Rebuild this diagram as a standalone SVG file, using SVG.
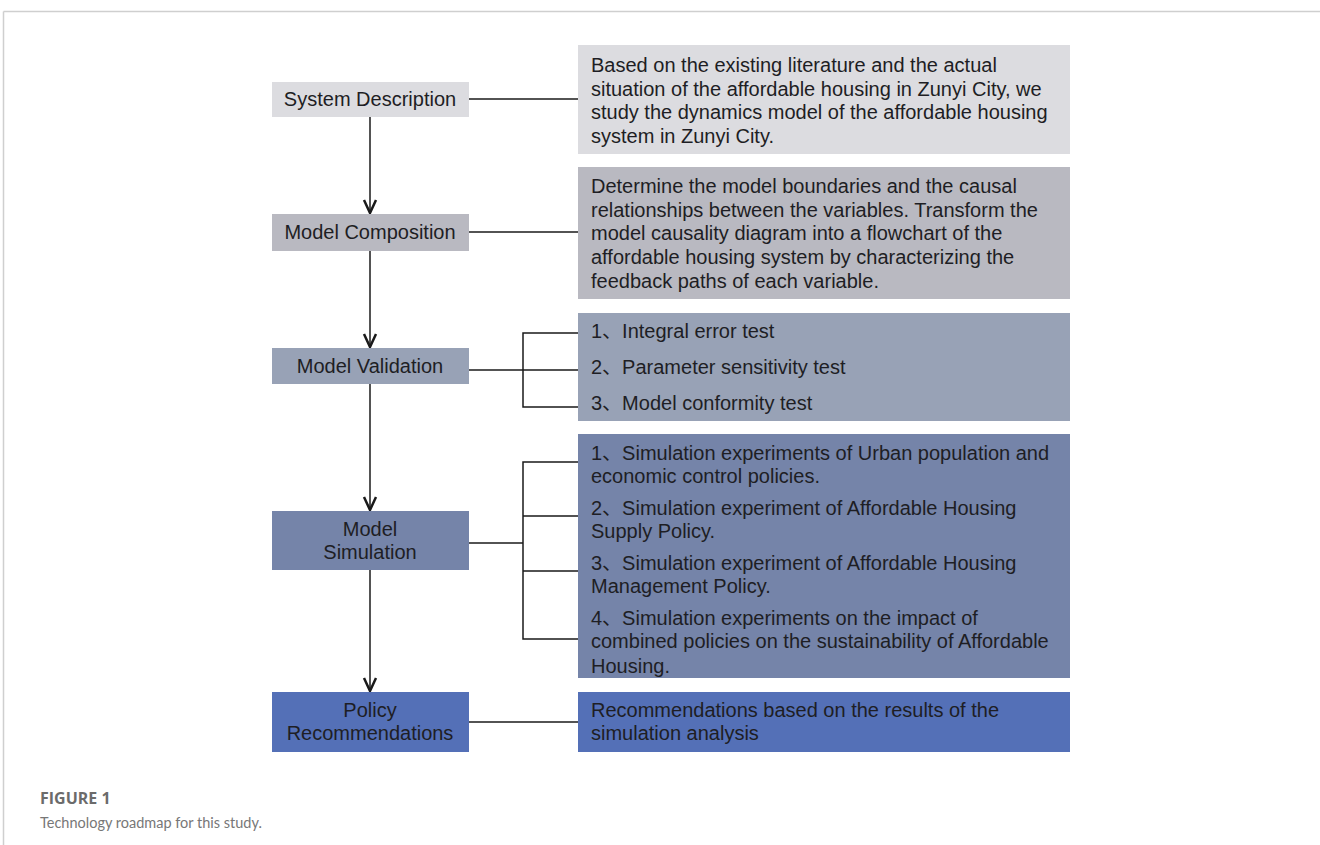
<svg xmlns="http://www.w3.org/2000/svg" width="1320" height="845" viewBox="0 0 1320 845">
<style>
.lbl{font-family:"Liberation Sans",Arial,"Noto Sans CJK SC",sans-serif;font-size:20px;fill:#1e1e24}
.ctr{text-anchor:middle}
.ln{stroke:#1a1a1a;stroke-width:1.5;fill:none}
.cap1{font-family:"Open Sans","Noto Sans",sans-serif;font-size:16px;font-weight:bold;fill:#6b6b6b}
.cap2{font-family:Lato,"Open Sans",sans-serif;font-size:14.5px;fill:#777}
</style>
<defs>
<marker id="arr" markerUnits="userSpaceOnUse" markerWidth="20" markerHeight="20" viewBox="-16 -10 20 20" refX="0" refY="0" orient="auto">
<path d="M-14,-6 L-1,0 L-14,6" fill="none" stroke="#1a1a1a" stroke-width="2.5"/>
</marker>
</defs>
<rect width="1320" height="845" fill="#fff"/>
<g id="frame">
<line x1="3.5" y1="11.5" x2="1320" y2="11.5" stroke="#cfcfcf" stroke-width="1.5"/>
<line x1="3.5" y1="11.5" x2="3.5" y2="845" stroke="#cfcfcf" stroke-width="1.5"/>
</g>
<g id="connectors">
<line class="ln" x1="370" y1="117" x2="370" y2="214" marker-end="url(#arr)"/>
<line class="ln" x1="370" y1="251" x2="370" y2="348" marker-end="url(#arr)"/>
<line class="ln" x1="370" y1="384" x2="370" y2="511" marker-end="url(#arr)"/>
<line class="ln" x1="370" y1="570" x2="370" y2="692" marker-end="url(#arr)"/>
<line class="ln" x1="469" y1="99" x2="578" y2="99"/>
<line class="ln" x1="469" y1="232" x2="578" y2="232"/>
<line class="ln" x1="469" y1="370" x2="523" y2="370"/>
<path class="ln" d="M578,333 H523 V407 H578 M523,370 H578"/>
<line class="ln" x1="469" y1="543" x2="523" y2="543"/>
<path class="ln" d="M578,462 H523 V639 H578 M523,516 H578 M523,571 H578"/>
<line class="ln" x1="469" y1="722" x2="578" y2="722"/>
</g>
<g id="n-system-description">
<rect x="272" y="82" width="197" height="35" fill="#dcdce0"/>
<text class="lbl ctr" x="370" y="106">System Description</text>
</g>
<g id="n-model-composition">
<rect x="272" y="214" width="197" height="37" fill="#b9b9c1"/>
<text class="lbl ctr" x="370" y="239">Model Composition</text>
</g>
<g id="n-model-validation">
<rect x="272" y="348" width="197" height="36" fill="#98a2b6"/>
<text class="lbl ctr" x="370" y="373">Model Validation</text>
</g>
<g id="n-model-simulation">
<rect x="272" y="511" width="197" height="59" fill="#7584a9"/>
<text class="lbl ctr" x="370" y="536">Model</text>
<text class="lbl ctr" x="370" y="559">Simulation</text>
</g>
<g id="n-policy-recommendations">
<rect x="272" y="692" width="197" height="60" fill="#5470b7"/>
<text class="lbl ctr" x="370" y="717">Policy</text>
<text class="lbl ctr" x="370" y="740">Recommendations</text>
</g>
<g id="d-system-description">
<rect x="578" y="45" width="492" height="109" fill="#dcdce0"/>
<text class="lbl" x="591" y="72">Based on the existing literature and the actual</text>
<text class="lbl" x="591" y="95.5">situation of the affordable housing in Zunyi City, we</text>
<text class="lbl" x="591" y="119">study the dynamics model of the affordable housing</text>
<text class="lbl" x="591" y="142.5">system in Zunyi City.</text>
</g>
<g id="d-model-composition">
<rect x="578" y="167" width="492" height="132" fill="#b9b9c1"/>
<text class="lbl" x="591" y="193">Determine the model boundaries and the causal</text>
<text class="lbl" x="591" y="216.5">relationships between the variables. Transform the</text>
<text class="lbl" x="591" y="240">model causality diagram into a flowchart of the</text>
<text class="lbl" x="591" y="264">affordable housing system by characterizing the</text>
<text class="lbl" x="591" y="288">feedback paths of each variable.</text>
</g>
<g id="d-model-validation">
<rect x="578" y="313" width="492" height="108" fill="#98a2b6"/>
<text class="lbl" x="591" y="338">1、Integral error test</text>
<text class="lbl" x="591" y="374">2、Parameter sensitivity test</text>
<text class="lbl" x="591" y="410">3、Model conformity test</text>
</g>
<g id="d-model-simulation">
<rect x="578" y="434" width="492" height="244" fill="#7584a9"/>
<text class="lbl" x="591" y="460">1、Simulation experiments of  Urban population and</text>
<text class="lbl" x="591" y="483">economic control policies.</text>
<text class="lbl" x="591" y="515">2、Simulation experiment of Affordable Housing</text>
<text class="lbl" x="591" y="538">Supply Policy.</text>
<text class="lbl" x="591" y="570">3、Simulation experiment of Affordable Housing</text>
<text class="lbl" x="591" y="593">Management Policy.</text>
<text class="lbl" x="591" y="625">4、Simulation experiments on the impact of</text>
<text class="lbl" x="591" y="648">combined policies on the sustainability of Affordable</text>
<text class="lbl" x="591" y="673">Housing.</text>
</g>
<g id="d-policy-recommendations">
<rect x="578" y="692" width="492" height="60" fill="#5470b7"/>
<text class="lbl" x="591" y="717">Recommendations based on the results of the</text>
<text class="lbl" x="591" y="740">simulation analysis</text>
</g>
<g id="caption">
<text class="cap1" x="40" y="804">FIGURE 1</text>
<text class="cap2" x="40" y="828">Technology roadmap for this study.</text>
</g>
</svg>
